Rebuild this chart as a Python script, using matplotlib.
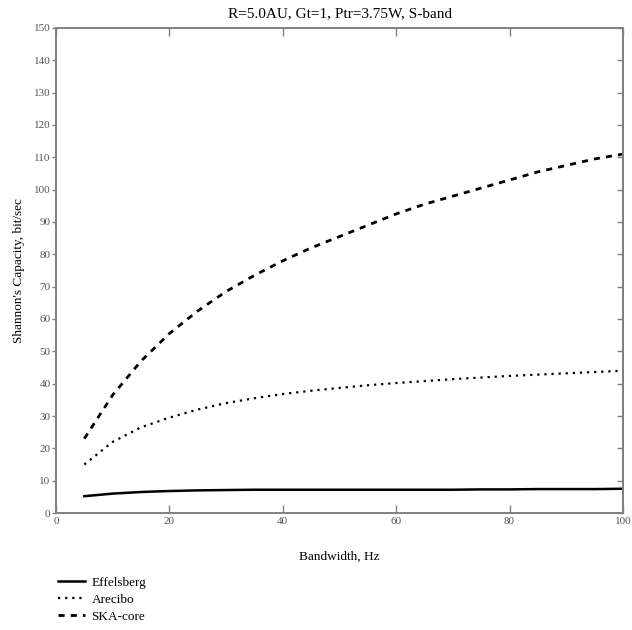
import matplotlib.pyplot as plt
import numpy as np

plt.rcParams.update({
    "font.family": "serif",
    "font.serif": ["Liberation Serif", "DejaVu Serif"],
    "font.size": 9,
})

# bandwidth, Hz
bandwidth = [5, 10, 15, 20, 25, 30, 35, 40, 45, 50, 55, 60, 65, 70, 75, 80, 85, 90, 95, 100]

# Shannon capacity, bit/sec
effelsberg = [5.2, 6.0, 6.5, 6.8, 7.0, 7.1, 7.2, 7.2, 7.2, 7.2, 7.2, 7.2, 7.2, 7.2, 7.3, 7.3, 7.4, 7.4, 7.4, 7.5]
arecibo = [15.0, 22.0, 26.5, 29.5, 32.0, 34.0, 35.5, 36.8, 37.8, 38.7, 39.5, 40.2, 40.8, 41.4, 41.9, 42.4, 42.8, 43.2, 43.6, 44.0]
ska_core = [23.0, 36.5, 47.0, 55.5, 62.5, 68.5, 73.5, 78.0, 82.0, 85.5, 89.0, 92.5, 95.5, 98.0, 100.5, 103.0, 105.5, 107.5, 109.5, 111.0]

x_ticks = [0, 20, 40, 60, 80, 100]
y_ticks = list(range(0, 151, 10))

fig = plt.figure(figsize=(6.32, 6.30), dpi=100)
ax = fig.add_axes([0.0886, 0.1857, 0.8972, 0.7699])

l1, = ax.plot(bandwidth, effelsberg, color='black', linewidth=1.8, linestyle='-')
l2, = ax.plot(bandwidth, arecibo, color='black', linewidth=1.6, linestyle=(0, (1, 2.2)))
l3, = ax.plot(bandwidth, ska_core, color='black', linewidth=2.0, linestyle=(0, (2.2, 2.2)))

ax.set_xlim(0, 100)
ax.set_ylim(0, 150)
ax.set_xticks(x_ticks)
ax.set_yticks(y_ticks)

for spine in ax.spines.values():
    spine.set_color('#808080')
    spine.set_linewidth(1.4)

# x ticks point inward on both top and bottom
ax.tick_params(axis='x', direction='in', top=True, bottom=True, length=6, width=1,
               color='#808080', labelsize=8, labelcolor='#555555', pad=3)
# y ticks: outward on the left, inward on the right
ax.tick_params(axis='y', direction='out', left=True, length=3, width=1,
               color='#808080', labelsize=8, labelcolor='#555555', pad=1)
ax_r = ax.secondary_yaxis('right')
ax_r.set_yticks(y_ticks)
ax_r.tick_params(axis='y', direction='in', length=4, width=1, color='#808080', labelright=False)
ax_r.spines['right'].set_color('#808080')
ax_r.spines['right'].set_linewidth(1.4)

ax.set_xlabel('Bandwidth, Hz', fontsize=9.5, labelpad=18)
ax.set_ylabel("Shannon's Capacity, bit/sec", fontsize=9.5, labelpad=6)
ax.set_title('R=5.0AU, Gt=1, Ptr=3.75W, S-band', fontsize=11, pad=8)

fig.legend(handles=[l1, l2, l3], labels=['Effelsberg', 'Arecibo', 'SKA-core'],
           loc='upper left', bbox_to_anchor=(0.082, 0.095 + 0.0),
           frameon=False, fontsize=9.5, handlelength=2.0, handletextpad=0.5,
           labelspacing=0.35, borderpad=0.0)

fig.savefig('out.png', dpi=100)
